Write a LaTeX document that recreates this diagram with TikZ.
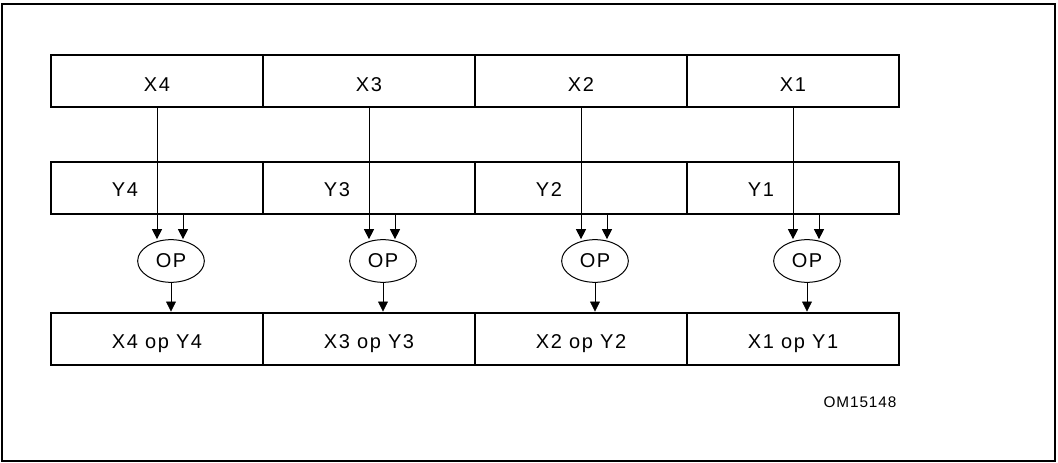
\documentclass[tikz,border=0pt]{standalone}
\usepackage{fontspec}
\setmainfont{Liberation Sans}[LetterSpace=8]
\newfontfamily\codefont{Liberation Sans}[LetterSpace=6]
\usetikzlibrary{arrows.meta,calc,shapes.geometric}
\begin{document}
\begin{tikzpicture}[x=0.75pt,y=-0.75pt,
  cell/.style={draw,line width=2.2pt,minimum width=159pt,minimum height=39pt,inner sep=0pt},
  lbl/.style={anchor=base,inner sep=0pt,font=\fontsize{15}{18}\selectfont},
  opnode/.style={draw,ellipse,line width=0.75pt,minimum width=50pt,minimum height=32pt,inner sep=0pt,font=\fontsize{15}{18}\selectfont},
  link/.style={line width=0.6pt,-{Triangle[width=7.5pt,length=7.5pt]}}]
\useasboundingbox (0,0) rectangle (1058,463);
\draw[line width=1.4pt] (2,4) rectangle (1055,461);
\foreach \i/\cx in {4/157,3/369,2/581,1/793}{
  \node[cell] (x\i) at (\cx,81) {};
  \node[cell] (y\i) at (\cx,188) {};
  \node[cell] (r\i) at (\cx,339) {};
  \node[lbl] (tx\i) at (\cx,92) {X\i};
  \node[lbl] (ty\i) at ({\cx-32},197) {Y\i};
  \node[lbl] (tr\i) at (\cx,349) {X\i{} op Y\i};
  \node[opnode] (op\i) at ({\cx+14},261) {OP};
  \coordinate (b\i) at ({\cx+26},188);
  \draw[link] (x\i.south) -- (x\i.south |- op\i.north);
  \draw[link] (b\i |- y\i.south) -- (b\i |- op\i.north);
  \draw[link] (op\i.south) -- (op\i.south |- r\i.north);
}
\node[anchor=base,inner sep=0pt,font=\codefont\fontsize{11.5}{13}\selectfont] (om) at (860,408) {OM15148};
\end{tikzpicture}
\end{document}
